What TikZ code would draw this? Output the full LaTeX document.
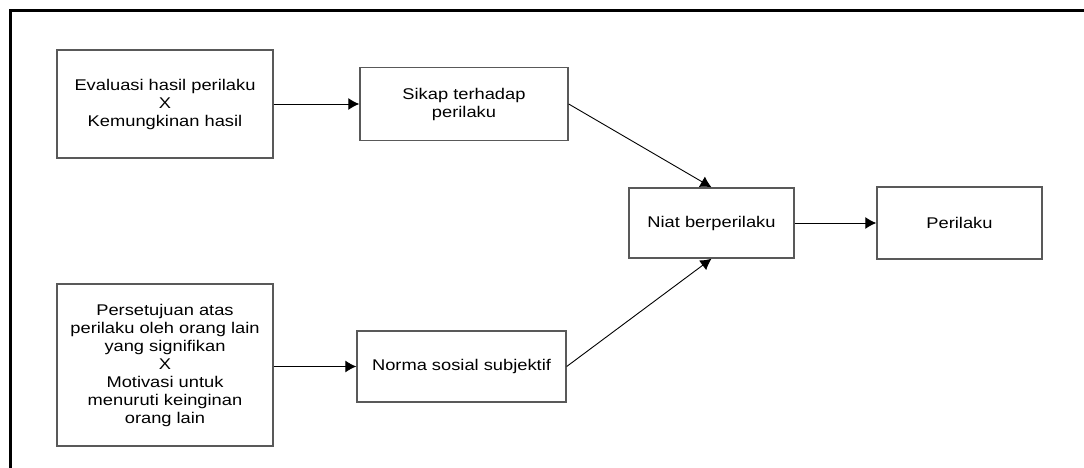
\documentclass[tikz,border=0pt]{standalone}
\usepackage{fontspec}
\setmainfont{Liberation Sans}[FakeStretch=1.18]
\usetikzlibrary{arrows.meta,positioning}

\begin{document}
\begin{tikzpicture}[x=1pt, y=-1pt, node distance=299pt, auto]
      \useasboundingbox (0,0) rectangle (1084,468);
      \tikzstyle{format} = [rectangle, draw=black!65, line width=1.4pt, text centered, align=center, inner sep=0pt,
                            font=\fontsize{15.5pt}{18pt}\selectfont]
      \tikzstyle{line} = [draw, line width=0.9pt, -{Latex[length=11pt,width=12pt]}]
      % frame (only top and left edges are visible)
      \draw [line width=3pt] (10,468) -- (10,11) -- (1084,11);
        \node [format, minimum width=216pt, minimum height=108pt] (eval) at (165,104)
              {Evaluasi hasil perilaku\\X\\Kemungkinan hasil};
        \node [format, minimum width=208pt, minimum height=73pt, right of = eval] (sikap)
              {Sikap terhadap\\perilaku};
        \node [format, minimum width=216pt, minimum height=162pt] (setuju) at (165,365)
              {Persetujuan atas\\perilaku oleh orang lain\\yang signifikan\\X\\Motivasi untuk\\menuruti keinginan\\orang lain};
        \node [format, minimum width=209pt, minimum height=71pt, right of = setuju, xshift=-2.5pt, yshift=-1.5pt] (norma)
              {Norma sosial subjektif};
        \node [format, minimum width=165pt, minimum height=70pt] (niat) at (711.5,223) {Niat berperilaku};
        \node [format, minimum width=165pt, minimum height=72pt, right of = niat, node distance=248pt] (perilaku) {Perilaku};
        \path [line] (eval.east) -- (sikap.west);
        \path [line] (setuju.east |- norma.west) -- (norma.west);
        \path [line] (sikap.east) -- (niat.north);
        \path [line] (norma.east) -- (niat.south);
        \path [line] (niat) -- (perilaku);
      \end{tikzpicture}
\end{document}
